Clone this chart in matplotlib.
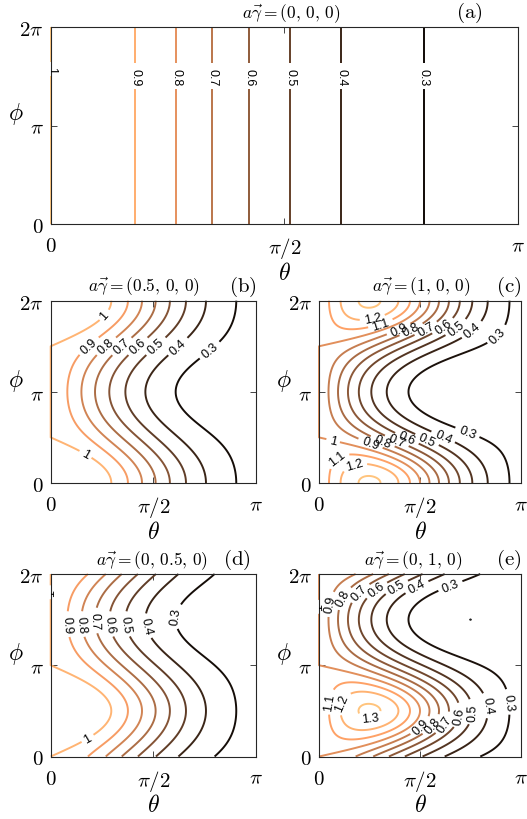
import numpy as np
import matplotlib
matplotlib.use("Agg")
import matplotlib.pyplot as plt
from matplotlib.colors import Normalize

plt.rcParams["mathtext.fontset"] = "cm"

# f(theta, phi) = exp(k*(cos(theta) - 1) + k * a*gamma . n)
k = 2.0 / 3.0
panel_tags = ["a", "b", "c", "d", "e"]
agamma_x = [0.0, 0.5, 1.0, 0.0, 0.0]
agamma_y = [0.0, 0.0, 0.0, 0.5, 1.0]
agamma_z = [0.0, 0.0, 0.0, 0.0, 0.0]
titles = [r"$a\vec{\gamma} = (0,\,0,\,0)$", r"$a\vec{\gamma} = (0.5,\,0,\,0)$",
          r"$a\vec{\gamma} = (1,\,0,\,0)$", r"$a\vec{\gamma} = (0,\,0.5,\,0)$",
          r"$a\vec{\gamma} = (0,\,1,\,0)$"]

levels_a = [0.3, 0.4, 0.5, 0.6, 0.7, 0.8, 0.9, 1.0]
levels_b = [0.3, 0.4, 0.5, 0.6, 0.7, 0.8, 0.9, 1.0]
levels_c = [0.3, 0.4, 0.5, 0.6, 0.7, 0.8, 0.9, 1.0, 1.1, 1.2, 1.3]
levels_d = [0.3, 0.4, 0.5, 0.6, 0.7, 0.8, 0.9, 1.0]
levels_e = [0.2, 0.3, 0.4, 0.5, 0.6, 0.7, 0.8, 0.9, 1.0, 1.1, 1.2, 1.3]
all_levels = [levels_a, levels_b, levels_c, levels_d, levels_e]

xtick_labels = [r"$0$", r"$\pi/2$", r"$\pi$"]
ytick_labels = [r"$0$", r"$\pi$", r"$2\pi$"]

# where the contour labels sit: (level, theta/pi, phi/pi) hints
spots = {
    "a": [(1.0, 0.0, 1.57), (0.9, 0.18, 1.5), (0.8, 0.27, 1.5), (0.7, 0.35, 1.5),
          (0.6, 0.43, 1.5), (0.5, 0.51, 1.5), (0.4, 0.62, 1.5), (0.3, 0.8, 1.5)],
    "b": [(1.0, 0.26, 1.84), (0.9, 0.19, 1.49), (0.8, 0.27, 1.51), (0.7, 0.34, 1.52),
          (0.6, 0.42, 1.51), (0.5, 0.52, 1.49), (0.4, 0.63, 1.47), (0.3, 0.78, 1.44),
          (1.0, 0.17, 0.32)],
    "c": [(1.2, 0.26, 1.85), (1.1, 0.3, 1.76), (0.9, 0.39, 1.71), (0.8, 0.44, 1.74),
          (0.7, 0.51, 1.76), (0.6, 0.59, 1.78), (0.5, 0.67, 1.73), (0.4, 0.76, 1.67),
          (0.3, 0.89, 1.62),
          (1.0, 0.07, 0.45), (0.9, 0.25, 0.41), (0.8, 0.31, 0.43), (0.7, 0.38, 0.45),
          (0.6, 0.43, 0.46), (0.5, 0.54, 0.5), (0.4, 0.62, 0.52), (0.3, 0.73, 0.54),
          (1.1, 0.11, 0.23), (1.2, 0.18, 0.17)],
    "d": [(1.0, 0.0, 1.8), (0.9, 0.09, 1.45), (0.8, 0.14, 1.45), (0.7, 0.22, 1.49),
          (0.6, 0.3, 1.45), (0.5, 0.38, 1.45), (0.4, 0.47, 1.43), (0.3, 0.63, 1.53),
          (1.0, 0.18, 0.19)],
    "e": [(1.0, 0.0, 1.64), (0.9, 0.06, 1.67), (0.8, 0.13, 1.73), (0.7, 0.2, 1.8),
          (0.6, 0.28, 1.84), (0.5, 0.38, 1.87), (0.4, 0.48, 1.87), (0.3, 0.65, 1.87),
          (0.9, 0.5, 0.34), (0.8, 0.56, 0.34), (0.7, 0.62, 0.36), (0.6, 0.69, 0.45),
          (0.5, 0.75, 0.49), (0.4, 0.82, 0.56), (0.3, 0.92, 0.6),
          (1.1, 0.06, 0.6), (1.2, 0.13, 0.58), (1.3, 0.25, 0.5)],
}

# axes boxes in pixels: left, top, right, bottom
W, H = 527, 820
boxes = {"a": (50.7, 28, 518, 225), "b": (50.7, 301.7, 256, 484),
         "c": (319, 301.7, 521, 484), "d": (50.7, 575, 256, 757.5),
         "e": (319, 575, 521, 757.5)}
title_x = [0.514, 0.454, 0.506, 0.493, 0.466]
tag_x = [0.895, 0.934, 0.941, 0.907, 0.941]

theta = np.linspace(0, np.pi, 201)
phi = np.linspace(0, 2 * np.pi, 201)
T, P = np.meshgrid(theta, phi)


def field(gx, gy, gz):
    nx = np.sin(T) * np.cos(P)
    ny = np.sin(T) * np.sin(P)
    nz = np.cos(T)
    return np.exp(k * (nz - 1) + k * (gx * nx + gy * ny + gz * nz))


fig = plt.figure(figsize=(W / 100, H / 100), dpi=100)

for i, tag in enumerate(panel_tags):
    l, t, r, b = boxes[tag]
    w_px, h_px = r - l, b - t
    ax = fig.add_axes([l / W, 1 - b / H, w_px / W, h_px / H])
    Z = field(agamma_x[i], agamma_y[i], agamma_z[i])
    # matlab counts values equal to a level as above it, hence the tiny shift
    lev = np.array(all_levels[i]) - 1e-9
    cs = ax.contour(T, P, Z, levels=lev, cmap="copper",
                    norm=Normalize(Z.min(), Z.max()), linewidths=1.4)
    cs.set_clip_on(False)  # keep the level-1 line on the theta=0 edge visible

    pos = []
    paths = cs.get_paths()
    for val, th, ph in spots[tag]:
        j = int(np.argmin(np.abs(cs.levels - val)))
        v = paths[j].vertices
        if len(v) == 0:
            continue
        d = (v[:, 0] / np.pi - th) ** 2 + ((v[:, 1] / np.pi - ph) / 2) ** 2
        pos.append(tuple(v[np.argmin(d)]))
    txts = ax.clabel(cs, manual=pos, inline=True, fmt="%g", fontsize=9,
                     colors="k", inline_spacing=3)
    for tx in txts:
        tx.set_family("Liberation Sans")

    ax.set_xlim(0, np.pi)
    ax.set_ylim(0, 2 * np.pi)
    ax.set_xticks([0, np.pi / 2, np.pi])
    ax.set_xticklabels(xtick_labels)
    ax.set_yticks([0, np.pi, 2 * np.pi])
    ax.set_yticklabels(ytick_labels)
    ax.tick_params(direction="in", top=True, right=True, length=4, width=0.6,
                   color="#262626", labelsize=15, pad=5)
    ax.tick_params(axis="x", pad=8)
    for s in ax.spines.values():
        s.set_linewidth(0.8)
        s.set_color("#262626")

    ax.set_xlabel(r"$\theta$", fontsize=17)
    ax.xaxis.set_label_coords(0.5, -36 / h_px)
    ax.set_ylabel(r"$\phi$", fontsize=17, rotation=0, ha="center", va="center")
    ax.yaxis.set_label_coords(-35 / w_px, 0.565)

    ax.text(title_x[i], 1 + 14 / h_px, titles[i], transform=ax.transAxes,
            ha="center", va="center", fontsize=12.5)
    ax.text(tag_x[i], 1 + 15 / h_px, r"$\mathrm{(%s)}$" % tag,
            transform=ax.transAxes, ha="center", va="center", fontsize=15)

fig.savefig("out.png", dpi=100)
